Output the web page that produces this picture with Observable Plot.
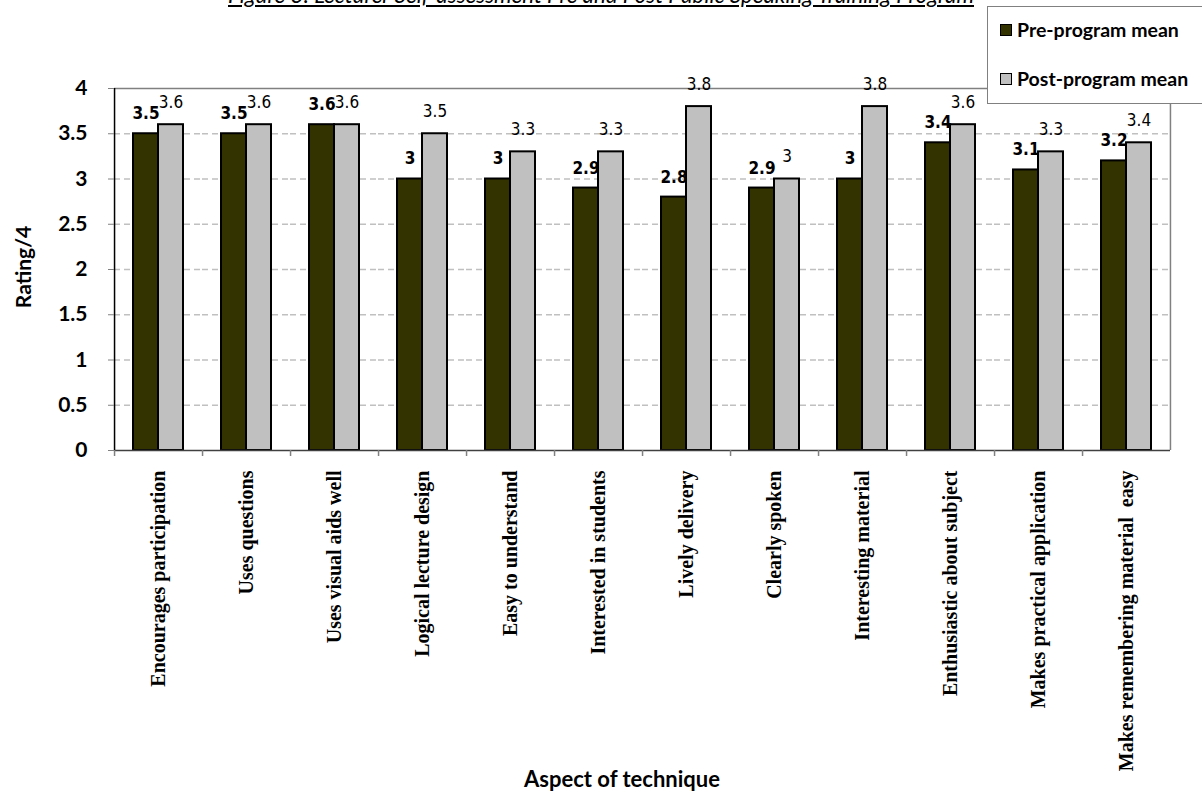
<!DOCTYPE html>
<html>
<head>
<meta charset="utf-8">
<script src="https://cdn.jsdelivr.net/npm/d3@7"></script>
<script src="https://cdn.jsdelivr.net/npm/@observablehq/plot@0.6"></script>
<style>
  html, body { margin: 0; padding: 0; background: #fff; }
  #wrap { position: relative; width: 1202px; height: 794px; overflow: hidden; background: #fff; }
  #chart { position: absolute; left: 0; top: 0; }
  .title { position: absolute; left: 0; width: 1202px; top: -16px; text-align: center;
           font: italic 22.3px/22px Lato, "Open Sans", sans-serif; text-decoration: underline; color: #000; white-space: nowrap; }
  .ylabel { position: absolute; left: 22px; top: 267px; transform: translate(-50%, -50%) rotate(-90deg);
            font: bold 21px Lato, sans-serif; color: #000; white-space: nowrap; }
  .xlabel { position: absolute; left: 622px; top: 778px; transform: translate(-50%, -50%);
            font: bold 22px Lato, sans-serif; color: #000; white-space: nowrap; }
  .legend { position: absolute; left: 987px; top: 6px; width: 240px; height: 96px; border: 1px solid #808080; background: #fff; }
  .legend .item { position: absolute; left: 12px; display: flex; align-items: center; font: bold 19.5px Lato, sans-serif; color: #000; white-space: nowrap; }
  .legend .sw { width: 10px; height: 10px; border: 1.5px solid #000; margin-right: 5px; }
</style>
</head>
<body>
<div id="wrap">
  <div class="title">Figure 3: Lecturer Self-assessment Pre and Post Public Speaking Training Program</div>
  <div id="chart"></div>
  <div class="ylabel">Rating/4</div>
  <div class="xlabel">Aspect of technique</div>
  <div class="legend" id="legend"></div>
</div>
<script>
const categories = [
  "Encourages participation",
  "Uses questions",
  "Uses visual aids well",
  "Logical lecture design",
  "Easy to understand",
  "Interested in students",
  "Lively delivery",
  "Clearly spoken",
  "Interesting material",
  "Enthusiastic about subject",
  "Makes practical application",
  "Makes remembering material  easy"
];
const preValues  = [3.5, 3.5, 3.6, 3.0, 3.0, 2.9, 2.8, 2.9, 3.0, 3.4, 3.1, 3.2];
const postValues = [3.6, 3.6, 3.6, 3.5, 3.3, 3.3, 3.8, 3.0, 3.8, 3.6, 3.3, 3.4];
const seriesNames = ["Pre-program mean", "Post-program mean"];
const seriesColors = ["#333300", "#c0c0c0"];
const yTicks = [0, 0.5, 1, 1.5, 2, 2.5, 3, 3.5, 4];

const data = categories.flatMap((c, i) => [
  {category: c, series: seriesNames[0], value: preValues[i]},
  {category: c, series: seriesNames[1], value: postValues[i]}
]);

const W = 1202, H = 794, ML = 111, MR = 30, MT = 88, MB = 344;
const outerPad = 0.733;
const facetStep = (W - ML - MR) / categories.length;
const barW = facetStep / (2 + 2 * outerPad);
const edgeOffset = barW * (0.5 + outerPad);
const narrow = '"DejaVu Sans Condensed", "Liberation Sans Narrow", "Arial Narrow", sans-serif';

const chart = Plot.plot({
  width: W, height: H,
  marginLeft: ML, marginRight: MR, marginTop: MT, marginBottom: MB,
  style: {fontFamily: "Lato, sans-serif", background: "transparent", overflow: "visible"},
  fx: {domain: categories, padding: 0, label: null},
  x: {domain: seriesNames, paddingInner: 0, paddingOuter: outerPad, axis: null},
  y: {domain: [0, 4], label: null},
  color: {domain: seriesNames, range: seriesColors},
  marks: [
    Plot.gridY({ticks: yTicks.filter(t => t > 0 && t < 4), stroke: "#c0c0c0", strokeOpacity: 1, strokeWidth: 1.5, strokeDasharray: "6,4"}),
    Plot.ruleY([4], {stroke: "#808080", strokeWidth: 1.5}),
    Plot.barY(data, {fx: "category", x: "series", y: "value", fill: "series", stroke: "#000", strokeWidth: 2}),
    Plot.ruleY([0], {stroke: "#404040", strokeWidth: 1.5}),
    Plot.ruleX(categories, {fx: d => d, x: () => seriesNames[0], y1: 0, y2: 0, insetBottom: -6, dx: -edgeOffset, stroke: "#808080", strokeWidth: 1.5}),
    Plot.ruleX([categories[0]], {fx: d => d, x: () => seriesNames[0], y1: 0, y2: 4, dx: -edgeOffset, stroke: "#000", strokeWidth: 1.5}),
    Plot.ruleX([categories[categories.length - 1]], {fx: d => d, x: () => seriesNames[1], y1: 0, y2: 4, insetBottom: -6, dx: edgeOffset, stroke: "#808080", strokeWidth: 1.5}),
    Plot.text(data.filter(d => d.series === seriesNames[0]), {fx: "category", x: "series", y: "value", text: d => String(d.value), dy: -20, fontWeight: "bold", fontSize: 17, fontFamily: narrow, fill: "#000"}),
    Plot.text(data.filter(d => d.series === seriesNames[1]), {fx: "category", x: "series", y: "value", text: d => String(d.value), dy: -22, fontSize: 17, fontFamily: narrow, fill: "#000"}),
    Plot.axisY({ticks: yTicks, tickFormat: d => String(d), tickSize: 6, tickPadding: 21, stroke: "#808080", fontSize: 21, fontWeight: "bold", fill: "#000", label: null}),
    Plot.axisFx({anchor: "bottom", tickSize: 0, tickPadding: 20, tickRotate: -90, fontSize: 20, fontWeight: "bold", fontFamily: '"Liberation Serif", "Times New Roman", serif', fill: "#000", label: null})
  ]
});
document.getElementById("chart").appendChild(chart);

const legend = document.getElementById("legend");
seriesNames.forEach((name, i) => {
  const item = document.createElement("div");
  item.className = "item";
  item.style.top = (i === 0 ? 11 : 60) + "px";
  const sw = document.createElement("span");
  sw.className = "sw";
  sw.style.background = seriesColors[i];
  item.appendChild(sw);
  item.appendChild(document.createTextNode(name));
  legend.appendChild(item);
});
</script>
</body>
</html>
